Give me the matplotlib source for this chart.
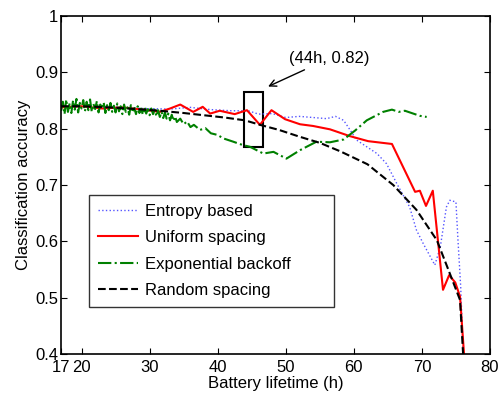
import numpy as np
import matplotlib
matplotlib.use('Agg')
import matplotlib.pyplot as plt
from matplotlib.patches import Rectangle

plt.rcParams['font.family'] = ['Liberation Sans', 'DejaVu Sans']

# Uniform spacing
uni_x = [17, 20, 23, 26, 29, 31.5, 33, 34.5, 36.4, 37.8, 38.9, 40.3, 42.5, 44.3, 46.2,
         47.9, 49.9, 52.1, 54.0, 56.5, 59.4, 62.1, 65.6, 69.0, 69.7, 70.6, 71.6, 73.1,
         74.0, 74.9, 75.6, 76.3]
uni_y = [0.838, 0.840, 0.836, 0.838, 0.834, 0.830, 0.836, 0.843, 0.830, 0.839, 0.827,
         0.832, 0.826, 0.833, 0.807, 0.833, 0.817, 0.808, 0.805, 0.799, 0.787, 0.778,
         0.773, 0.688, 0.690, 0.663, 0.690, 0.514, 0.540, 0.527, 0.502, 0.38]

# Entropy based
ent_x = [17, 21, 25, 29, 33, 36, 39, 42, 44.5, 46, 48, 50, 52, 54, 56, 57.3, 58.5, 59.5,
         60.4, 63.4, 64.8, 66.3, 68.2, 69.2, 70.2, 71.9, 72.7, 73.6, 74.1, 75.0, 75.3,
         75.7, 76.1]
ent_y = [0.840, 0.838, 0.839, 0.836, 0.835, 0.838, 0.834, 0.832, 0.832, 0.826, 0.827,
         0.820, 0.822, 0.820, 0.818, 0.822, 0.815, 0.797, 0.780, 0.756, 0.738, 0.703,
         0.661, 0.620, 0.596, 0.558, 0.590, 0.661, 0.673, 0.670, 0.602, 0.519, 0.39]

# Exponential backoff (noisy at the start)
exp_x = [17.00, 17.25, 17.50, 17.75, 18.00, 18.25, 18.50, 18.75, 19.00, 19.25, 19.50,
         19.75, 20.00, 20.25, 20.50, 20.75, 21.00, 21.25, 21.50, 21.75, 22.00, 22.25,
         22.50, 22.75, 23.00, 23.25, 23.50, 23.75, 24.00, 24.25, 24.50, 24.75, 25.00,
         25.25, 25.50, 25.75, 26.00, 26.25, 26.50, 26.75, 27.00, 27.25, 27.50, 27.75,
         28.00, 28.25, 28.50, 28.75, 29.00, 29.25, 29.50, 29.75, 30.00, 30.25, 30.50,
         30.75, 31.00, 31.25, 31.50, 31.75, 32.00, 32.25, 32.50, 32.75, 33.00, 33.25,
         33.50, 33.75, 34.00, 34.5, 35.0, 35.5, 36.0, 36.5, 37.4, 38.2, 39.0, 40.0,
         40.8, 42.3, 43.7, 44.75, 46.7, 48.2, 50.1, 52.1, 54.5, 56.5, 58.5, 60.2, 61.9,
         64.3, 65.6, 66.6, 67.5, 69.7, 70.7]
exp_y = [0.832, 0.848, 0.826, 0.852, 0.830, 0.845, 0.828, 0.850, 0.834, 0.853, 0.829,
         0.846, 0.836, 0.851, 0.831, 0.848, 0.833, 0.852, 0.830, 0.844, 0.835, 0.849,
         0.829, 0.843, 0.836, 0.847, 0.828, 0.842, 0.833, 0.846, 0.830, 0.841, 0.829,
         0.845, 0.831, 0.840, 0.826, 0.843, 0.830, 0.838, 0.825, 0.842, 0.829, 0.837,
         0.826, 0.840, 0.828, 0.836, 0.825, 0.838, 0.827, 0.835, 0.824, 0.836, 0.826,
         0.834, 0.822, 0.833, 0.821, 0.830, 0.819, 0.829, 0.818, 0.827, 0.815, 0.825,
         0.814, 0.822, 0.812, 0.818, 0.808, 0.813, 0.803, 0.807, 0.798, 0.801, 0.792,
         0.789, 0.783, 0.777, 0.771, 0.768, 0.756, 0.759, 0.747, 0.762, 0.777, 0.776,
         0.781, 0.797, 0.815, 0.830, 0.834, 0.830, 0.832, 0.823, 0.821]

# Random spacing
rnd_x = [17, 20, 24, 28, 31.5, 35, 38, 41, 44, 46.5, 49, 52, 55, 58, 62, 65.8, 69.2,
         72.2, 74.1, 75.6, 76.1]
rnd_y = [0.840, 0.840, 0.838, 0.835, 0.832, 0.828, 0.824, 0.820, 0.815, 0.806, 0.798,
         0.786, 0.775, 0.760, 0.737, 0.700, 0.656, 0.602, 0.543, 0.496, 0.39]

xticks = [17, 20, 30, 40, 50, 60, 70, 80]
yticks = [0.4, 0.5, 0.6, 0.7, 0.8, 0.9, 1.0]
ytick_labels = ['0.4', '0.5', '0.6', '0.7', '0.8', '0.9', '1']

box_x = (43.9, 46.6)
box_y = (0.767, 0.865)

fig = plt.figure(figsize=(5.01, 3.94), dpi=100)
ax = fig.add_axes([0.122, 0.1015, 0.856, 0.8575])

ax.plot(ent_x, ent_y, ':', color='#5555ff', lw=1.0, label='Entropy based')
ax.plot(uni_x, uni_y, '-', color='red', lw=1.5, label='Uniform spacing')
ax.plot(exp_x, exp_y, '-.', color='#008000', lw=1.5, label='Exponential backoff')
ax.plot(rnd_x, rnd_y, '--', color='black', lw=1.5, label='Random spacing')

ax.add_patch(Rectangle((box_x[0], box_y[0]), box_x[1] - box_x[0], box_y[1] - box_y[0],
                       fill=False, edgecolor='black', lw=1.5))
ax.annotate('(44h, 0.82)', xy=(47.4, 0.875), xytext=(50.5, 0.925),
            fontsize=12, va='center', ha='left',
            arrowprops=dict(arrowstyle='->', color='black', lw=1.0, shrinkA=2, shrinkB=0))

ax.set_xlim(17, 80)
ax.set_ylim(0.4, 1.0)
ax.set_xticks(xticks)
ax.set_xticklabels([str(t) for t in xticks])
ax.set_yticks(yticks)
ax.set_yticklabels(ytick_labels)
ax.tick_params(direction='in', top=True, right=True, labelsize=12, length=4, pad=2)
ax.tick_params(axis='x', pad=4)
for s in ax.spines.values():
    s.set_linewidth(1.2)

ax.set_xlabel('Battery lifetime (h)', fontsize=12, labelpad=1)
ax.set_ylabel('Classification accuracy', fontsize=12, labelpad=3)

leg = ax.legend(loc='lower left', bbox_to_anchor=(0.065, 0.139, 0.571, 0.337),
                mode='expand', fontsize=12, frameon=True, fancybox=False,
                handlelength=2.4, handletextpad=0.4, labelspacing=0.68,
                borderpad=0.55, borderaxespad=0)
leg.get_frame().set_edgecolor('black')
leg.get_frame().set_linewidth(1.0)

fig.savefig('out.png', dpi=100)
